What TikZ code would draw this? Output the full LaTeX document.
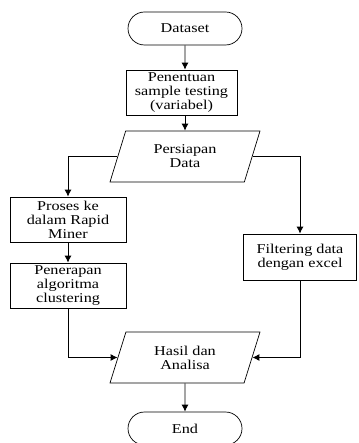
\documentclass[tikz,border=0pt]{standalone}
\usepackage{fontspec}
\setmainfont[FakeStretch=1.2]{Liberation Serif}
\usetikzlibrary{shapes.geometric,shapes.misc,arrows.meta}

\begin{document}
\begin{tikzpicture}[x=1pt,y=-1pt,
  flowbox/.style={draw,line width=0.7pt,align=center,inner sep=1pt,
    font=\fontsize{13.5}{14}\selectfont},
  terminal/.style={flowbox,rounded rectangle,minimum width=116pt,minimum height=33pt},
  process/.style={flowbox,rectangle,minimum height=45pt},
  inout/.style={flowbox,trapezium,trapezium left angle=58,trapezium right angle=122,
    trapezium stretches body,minimum width=150pt,minimum height=51pt},
  arr/.style={-{Latex[length=7pt,width=7pt]},line width=0.9pt}]
  \useasboundingbox (0,0) rectangle (358,443);

  \node[terminal] (dataset) at (185,28.5) {Dataset};
  \node[process,minimum width=111pt] (penentuan) at (181.5,92.5)
    {Penentuan\\sample testing\\(variabel)};
  \node[inout] (persiapan) at (185,156.5) {Persiapan\\Data};
  \node[process,minimum width=116pt] (proses) at (68,219.5)
    {Proses ke\\dalam Rapid\\Miner};
  \node[process,minimum width=116pt] (penerapan) at (68,285.5)
    {Penerapan\\algoritma\\clustering};
  \node[process,minimum width=113pt,minimum height=46pt] (filtering) at (300,257)
    {Filtering data\\dengan excel};
  \node[inout] (hasil) at (185,357.5) {Hasil dan\\Analisa};
  \node[terminal] (end) at (185,428.5) {End};

  \draw[arr] (dataset) -- (dataset |- penentuan.north);
  \draw[arr] (penentuan.south -| dataset) -- (dataset |- persiapan.north);
  \draw[arr] (persiapan.west) -| (proses.north);
  \draw[arr] (persiapan.east) -| (filtering.north);
  \draw[arr] (proses) -- (penerapan);
  \draw[arr] (penerapan.south) |- (hasil.west);
  \draw[arr] (filtering.south) |- (hasil.east);
  \draw[arr] (hasil) -- (end);
\end{tikzpicture}
\end{document}
